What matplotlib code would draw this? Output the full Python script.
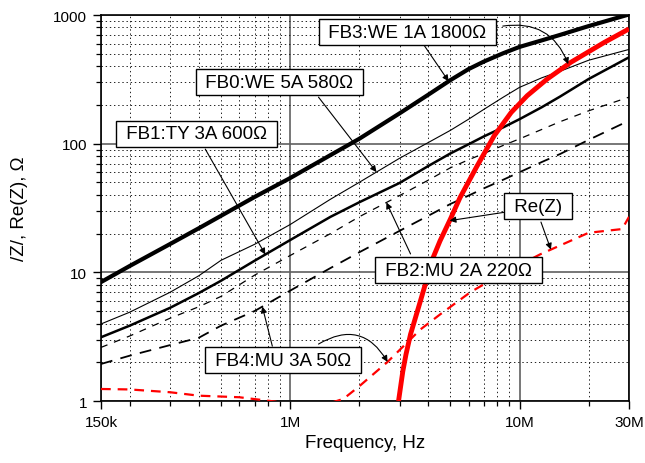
import numpy as np
import matplotlib.pyplot as plt
from matplotlib.ticker import FixedLocator, NullFormatter

plt.rcParams['font.family'] = ['Liberation Sans', 'DejaVu Sans']
plt.rcParams['lines.scale_dashes'] = False

# frequency points (Hz) shared by the |Z| curves
freq = [150e3, 200e3, 300e3, 400e3, 500e3, 700e3, 1e6, 1.5e6, 2e6, 3e6,
        4e6, 5e6, 6e6, 7e6, 8.5e6, 10e6, 12.5e6, 15e6, 20e6, 30e6]
z_fb3 = [8.4, 11.2, 16.6, 22, 27.5, 38.5, 54, 81.5, 109, 172,
         240, 312, 380, 435, 505, 565, 635, 700, 820, 1010]
z_fb0 = [3.97, 4.9, 7.0, 9.4, 12.4, 16.5, 23.5, 37, 50, 77,
         102, 127, 155, 185, 230, 274, 325, 365, 445, 540]
z_fb1 = [3.13, 3.85, 5.3, 6.9, 8.6, 12.3, 17.8, 27, 35, 49.5,
         67, 84, 99, 114, 134, 155, 192, 232, 318, 469]
z_fb2 = [2.61, 3.2, 4.4, 5.4, 6.5, 9.5, 13.5, 20, 27, 39.5,
         52, 65, 75, 84, 97, 109, 129, 148, 180, 230]
z_fb4 = [1.94, 2.25, 2.72, 3.1, 3.85, 5.0, 7.2, 10.8, 14.3, 21,
         27.5, 34, 39.5, 45, 52.5, 60, 72, 83, 107, 151]

# Re(Z) curves
re3_freq = [2.97e6, 3.1e6, 3.2e6, 3.35e6, 3.7e6, 4.2e6, 4.5e6, 5.0e6, 5.5e6,
            6.5e6, 7.75e6, 9.2e6, 10.8e6, 13.2e6, 16.7e6, 23.4e6, 30e6]
re3_z = [1.0, 1.7, 2.3, 3.3, 6.0, 13, 17.5, 26, 38,
         66, 115, 175, 236, 318, 428, 612, 780]
re4_freq = [150e3, 200e3, 300e3, 400e3, 600e3, 860e3, 1.2e6, 1.71e6, 2.0e6,
            2.65e6, 3.7e6, 4.5e6, 6.1e6, 8e6, 12.3e6, 16e6, 20e6, 28e6, 30e6]
re4_z = [1.24, 1.23, 1.17, 1.1, 1.07, 0.99, 0.85, 1.04, 1.3,
         2.0, 3.6, 4.7, 7.0, 9.3, 13.8, 17.0, 20.3, 21.7, 27]

x_ticks = [150e3, 1e6, 10e6, 30e6]
x_tick_labels = ['150k', '1M', '10M', '30M']
y_ticks = [1, 10, 100, 1000]
y_tick_labels = ['1', '10', '100', '1000']


def on(fx, zy, f):
    # value of a curve at frequency f (log-log interpolation)
    return 10 ** np.interp(np.log10(f), np.log10(fx), np.log10(zy))


fig = plt.figure(figsize=(6.45, 4.64), dpi=100)
ax = fig.add_axes([0.1566, 0.1336, 0.8186, 0.8319])
ax.set_xscale('log')
ax.set_yscale('log')

ax.plot(freq, z_fb3, color='k', lw=3.0, zorder=3)
ax.plot(freq, z_fb0, color='k', lw=0.8, zorder=3)
ax.plot(freq, z_fb1, color='k', lw=1.8, zorder=3)
ax.plot(freq, z_fb2, color='k', lw=0.9, ls=(0, (5, 5)), zorder=3)
ax.plot(freq, z_fb4, color='k', lw=1.3, ls=(0, (8.5, 6)), zorder=3)
ax.plot(re3_freq, re3_z, color='#ff0000', lw=3.5, zorder=3,
        solid_capstyle='butt')
ax.plot(re4_freq, re4_z, color='#ff0000', lw=1.6, ls=(0, (7, 5)), zorder=3)

ax.set_xlim(150e3, 30e6)
ax.set_ylim(1, 1000)
ax.set_xticks(x_ticks)
ax.set_xticklabels(x_tick_labels)
ax.set_yticks(y_ticks)
ax.set_yticklabels(y_tick_labels)
x_minor = [m * d for d in (1e5, 1e6) for m in range(2, 10) if m * d > 150e3] + [2e7]
y_minor = [m * d for d in (1, 10, 100) for m in range(2, 10)]
ax.xaxis.set_minor_locator(FixedLocator(x_minor))
ax.yaxis.set_minor_locator(FixedLocator(y_minor))
ax.xaxis.set_minor_formatter(NullFormatter())
ax.yaxis.set_minor_formatter(NullFormatter())

ax.grid(which='major', ls='-', color='#606060', lw=1.2, zorder=1)
ax.grid(which='minor', ls=(0, (1, 2)), color='#222222', lw=0.7, zorder=1)
ax.tick_params(which='major', direction='out', length=6, width=1.0,
               labelsize=11, pad=4)
ax.tick_params(which='minor', direction='out', length=3.5, width=0.9)
for s in ax.spines.values():
    s.set_linewidth(1.2)

ax.set_xlabel('Frequency, Hz', fontsize=13.5, labelpad=4)
ax.set_ylabel('/Z/, Re(Z), Ω', fontsize=13.5, labelpad=18)

box = dict(boxstyle='square,pad=0.25', fc='white', ec='k', lw=1.0)


def label(x, y, s):
    ax.text(x, y, ' ' + s + ' ', fontsize=13.5, ha='center', va='center',
            bbox=box, zorder=6)


def arrow(start, xy, rad=0.0):
    ax.annotate('', xy=xy, xytext=start, zorder=5,
                arrowprops=dict(arrowstyle='-|>', color='k', lw=0.8,
                                mutation_scale=9, shrinkA=0, shrinkB=0,
                                connectionstyle='arc3,rad=%s' % rad))


label(3.25e6, 736, 'FB3:WE 1A 1800Ω')
label(898e3, 301, 'FB0:WE 5A 580Ω')
label(390e3, 119, 'FB1:TY 3A 600Ω')
label(12.0e6, 32.7, 'Re(Z)')
label(5.43e6, 10.4, 'FB2:MU 2A 220Ω')
label(935e3, 2.08, 'FB4:MU 3A 50Ω')

arrow((3.7e6, 640), (4.91e6, on(freq, z_fb3, 4.91e6)))
arrow((8.45e6, 820), (16.3e6, on(re3_freq, re3_z, 16.3e6)), rad=-0.4)
arrow((1.33e6, 230), (2.38e6, on(freq, z_fb0, 2.38e6)))
arrow((427e3, 90.8), (780e3, on(freq, z_fb1, 780e3)))
arrow((3.35e6, 13.9), (2.63e6, on(freq, z_fb2, 2.63e6)))
arrow((8.71e6, 29.4), (4.96e6, on(re3_freq, re3_z, 4.96e6)))
arrow((12.4e6, 24.6), (13.7e6, on(re4_freq, re4_z, 13.7e6)))
arrow((837e3, 2.67), (757e3, on(freq, z_fb4, 757e3)))
arrow((1.33e6, 2.77), (2.66e6, on(re4_freq, re4_z, 2.66e6)), rad=-0.5)

fig.savefig('out.png', dpi=100)
